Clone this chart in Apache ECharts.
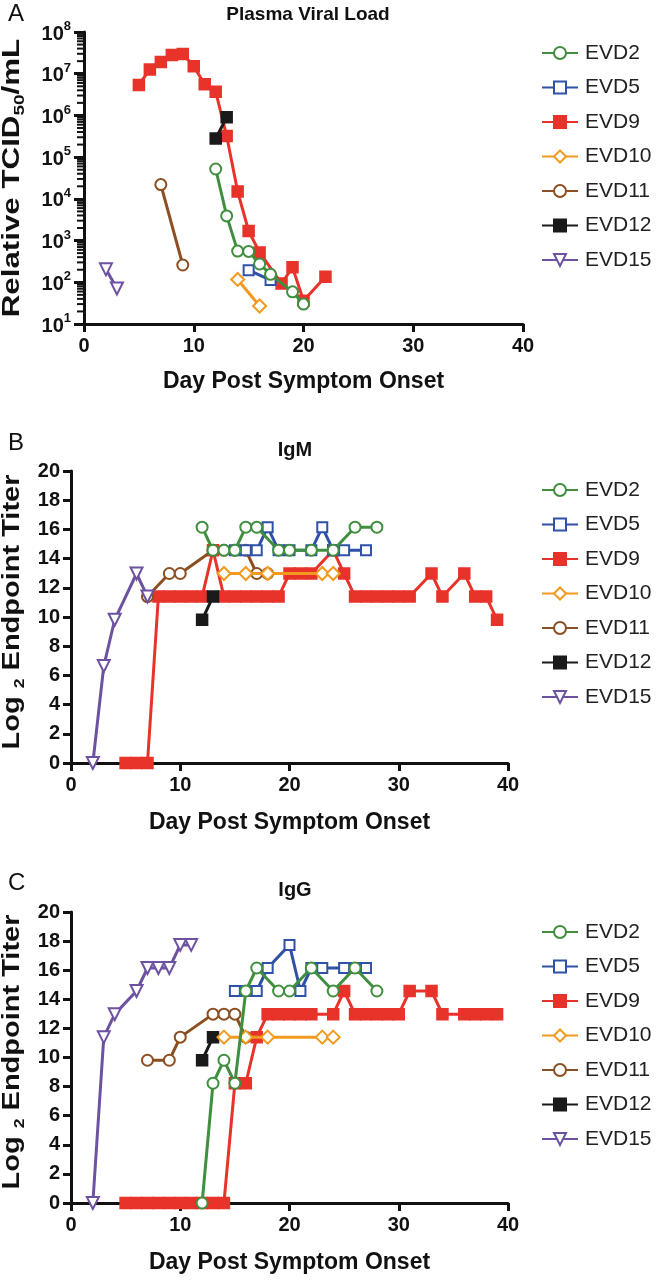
<!DOCTYPE html>
<html><head><meta charset="utf-8">
<script src="https://cdn.jsdelivr.net/npm/echarts@6/dist/echarts.min.js"></script>
<style>html,body{margin:0;padding:0;background:#fff}#c{width:661px;height:1280px}</style>
</head><body><div id="c"></div>
<script>
// ---------- categories / ticks ----------
const seriesNames = ['EVD2','EVD5','EVD9','EVD10','EVD11','EVD12','EVD15'];
const dayTicks = [0, 10, 20, 30, 40];
const titerTicks = [0, 2, 4, 6, 8, 10, 12, 14, 16, 18, 20];
const viralTicks = [1e1, 1e2, 1e3, 1e4, 1e5, 1e6, 1e7, 1e8];
const minorMultipliers = [2, 3, 4, 5, 6, 7, 8, 9];

// ---------- Panel A: plasma viral load [day, TCID50/mL] ----------
const vlEVD2  = [[12,52000],[13,3900],[14,560],[15,550],[16,275],[17,155],[19,59],[20,30]];
const vlEVD5  = [[15,195],[17,113]];
const vlEVD9  = [[5,5.4e6],[6,1.27e7],[7,1.9e7],[8,2.8e7],[9,2.96e7],[10,1.5e7],[11,5.6e6],[12,3.7e6],[13,3.2e5],[14,1.5e4],[15,1700],[16,520],[18,93],[19,229],[20,36],[22,135]];
const vlEVD10 = [[14,117],[16,27]];
const vlEVD11 = [[7,22000],[9,260]];
const vlEVD12 = [[12,2.8e5],[13,9e5]];
const vlEVD15 = [[2,204],[3,71]];

// ---------- Panel B: IgM log2 endpoint titer ----------
const igmEVD2  = [[12,16.15],[13,14.57],[14,14.57],[15,14.57],[16,16.15],[17,16.15],[19,14.57],[20,14.57],[22,14.57],[24,14.57],[26,16.15],[28,16.15]];
const igmEVD5  = [[15,14.57],[16,14.57],[17,14.57],[18,16.15],[19,14.57],[20,14.57],[22,14.57],[23,16.15],[24,14.57],[25,14.57],[27,14.57]];
const igmEVD9  = [[5,0],[6,0],[7,0],[8,11.4],[9,11.4],[10,11.4],[11,11.4],[12,11.4],[13,14.57],[14,11.4],[15,11.4],[16,11.4],[17,11.4],[18,11.4],[19,11.4],[20,12.98],[21,12.98],[22,12.98],[24,14.57],[25,12.98],[26,11.4],[27,11.4],[28,11.4],[29,11.4],[30,11.4],[31,11.4],[33,12.98],[34,11.4],[36,12.98],[37,11.4],[38,11.4],[39,9.81]];
const igmEVD10 = [[14,12.98],[16,12.98],[18,12.98],[23,12.98],[24,12.98]];
const igmEVD11 = [[7,11.4],[9,12.98],[10,12.98],[13,14.57],[14,14.57],[15,14.57],[16,14.57],[17,12.98],[18,12.98]];
const igmEVD12 = [[12,9.81],[13,11.4]];
const igmEVD15 = [[2,0],[3,6.64],[4,9.81],[6,12.98],[7,11.4]];

// ---------- Panel C: IgG log2 endpoint titer ----------
const iggEVD2  = [[12,0],[13,8.23],[14,9.81],[15,8.23],[16,14.57],[17,16.15],[19,14.57],[20,14.57],[22,16.15],[24,14.57],[26,16.15],[28,14.57]];
const iggEVD5  = [[15,14.57],[16,14.57],[17,14.57],[18,16.15],[20,17.74],[21,14.57],[22,16.15],[23,16.15],[25,16.15],[26,16.15],[27,16.15]];
const iggEVD9  = [[5,0],[6,0],[7,0],[8,0],[9,0],[10,0],[11,0],[12,0],[13,0],[14,0],[15,8.23],[16,8.23],[17,11.4],[18,12.98],[19,12.98],[20,12.98],[21,12.98],[22,12.98],[24,12.98],[25,14.57],[26,12.98],[27,12.98],[28,12.98],[29,12.98],[30,12.98],[31,14.57],[33,14.57],[34,12.98],[36,12.98],[37,12.98],[38,12.98],[39,12.98]];
const iggEVD10 = [[14,11.4],[16,11.4],[18,11.4],[23,11.4],[24,11.4]];
const iggEVD11 = [[7,9.81],[9,9.81],[10,11.4],[13,12.98],[14,12.98],[15,12.98],[16,11.4]];
const iggEVD12 = [[12,9.81],[13,11.4]];
const iggEVD15 = [[2,0],[3,11.4],[4,12.98],[6,14.57],[7,16.15],[8,16.15],[9,16.15],[10,17.74],[11,17.74]];

// ---------- styling ----------
const FONT = "'Liberation Sans', Arial, Helvetica, sans-serif";
const AX = '#111111';
const markStyle = {
  EVD2:  {color:'#3f8f3f', symbol:'emptyCircle',   size:11},
  EVD5:  {color:'#2f51a7', symbol:'emptyRect',     size:10},
  EVD9:  {color:'#e8332a', symbol:'rect',          size:10},
  EVD10: {color:'#f29a1d', symbol:'emptyDiamond',  size:13},
  EVD11: {color:'#8b4f21', symbol:'emptyCircle',   size:11},
  EVD12: {color:'#1a1a1a', symbol:'rect',          size:10},
  EVD15: {color:'#6d52a2', symbol:'emptyTriangle', size:12, rotate:180}
};
const drawOrder = ['EVD9','EVD11','EVD12','EVD10','EVD15','EVD5','EVD2'];

const panels = [
  {yIdx:0, data:{EVD2:vlEVD2,EVD5:vlEVD5,EVD9:vlEVD9,EVD10:vlEVD10,EVD11:vlEVD11,EVD12:vlEVD12,EVD15:vlEVD15}},
  {yIdx:1, data:{EVD2:igmEVD2,EVD5:igmEVD5,EVD9:igmEVD9,EVD10:igmEVD10,EVD11:igmEVD11,EVD12:igmEVD12,EVD15:igmEVD15}},
  {yIdx:2, data:{EVD2:iggEVD2,EVD5:iggEVD5,EVD9:iggEVD9,EVD10:iggEVD10,EVD11:iggEVD11,EVD12:iggEVD12,EVD15:iggEVD15}}
];

const series = [];
panels.forEach((p, i) => {
  drawOrder.forEach((name, k) => {
    const st = markStyle[name];
    series.push({
      type:'line', name, xAxisIndex:i, yAxisIndex:p.yIdx, data:p.data[name],
      symbol:st.symbol, symbolSize:st.size, symbolRotate:st.rotate || 0,
      showAllSymbol:true, animation:false, z: 2 + k,
      lineStyle:{width:3, color:st.color},
      itemStyle:{color:st.color, borderColor:st.color, borderWidth:2.5},
      emphasis:{disabled:true}
    });
  });
});

// minor log ticks (2..9 x 10^n) on the viral-load axis, placed by the log axis itself.
// Named after a legend entry so the legend filter keeps it visible (legend icon comes from the first EVD2 line).
const minorTickData = [];
viralTicks.slice(0, -1).forEach(t => minorMultipliers.forEach(m => minorTickData.push([0, m * t])));
series.push({
  type:'scatter', name:'EVD2', xAxisIndex:0, yAxisIndex:0, data:minorTickData,
  symbol:'rect', symbolSize:[7, 2], symbolOffset:[-3.5, 0], clip:false, silent:true, z:10,
  itemStyle:{color:AX, opacity:1}, emphasis:{disabled:true}, animation:false, tooltip:{show:false}
});

const grids = [
  {left:84, top:32, width:439, height:292},
  {left:71, top:471, width:437, height:292},
  {left:71, top:912, width:437, height:291}
];

function xAxisFor(i, gap) {
  return {
    type:'value', gridIndex:i, min:0, max:40, interval:10,
    name:'Day Post Symptom Onset', nameLocation:'middle', nameGap:gap,
    nameTextStyle:{fontFamily:FONT, fontSize:23, fontWeight:'bold', color:AX},
    axisLine:{show:true, onZero:false, lineStyle:{color:AX, width:3}},
    axisTick:{show:true, length:8, lineStyle:{color:AX, width:3}},
    axisLabel:{fontFamily:FONT, fontSize:20, fontWeight:'bold', color:AX, margin:12,
      customValues: dayTicks},
    splitLine:{show:false}
  };
}
function titerAxis(i) {
  return {
    type:'value', gridIndex:i, min:0, max:20, interval:2,
    axisLine:{show:true, onZero:false, lineStyle:{color:AX, width:3}},
    axisTick:{show:true, length:8, lineStyle:{color:AX, width:3}},
    axisLabel:{fontFamily:FONT, fontSize:20, fontWeight:'bold', color:AX, margin:11,
      customValues: titerTicks},
    splitLine:{show:false}
  };
}

function legendAt(top) {
  return {
    data: seriesNames, orient:'vertical', left:541, top:top, padding:0,
    itemWidth:36, itemHeight:15, itemGap:12.5, selectedMode:false,
    textStyle:{fontFamily:FONT, fontSize:21, color:'#222', lineHeight:22, padding:[0,0,0,2]}
  };
}

const ytitleRich = {
  m:{fontFamily:FONT, fontSize:23, fontWeight:'bold', fill:AX, lineHeight:26, verticalAlign:'top'},
  s:{fontFamily:FONT, fontSize:14, fontWeight:'bold', fill:AX, lineHeight:14, padding:[14,0,0,0], verticalAlign:'bottom'}
};

const option = {
  animation:false,
  backgroundColor:'#ffffff',
  textStyle:{fontFamily:FONT},
  title:[
    {text:'Plasma Viral Load', left:303, top:0, textAlign:'center',
     textStyle:{fontFamily:FONT, fontSize:19, fontWeight:'bold', color:AX}},
    {text:'IgM', left:290, top:435, textAlign:'center',
     textStyle:{fontFamily:FONT, fontSize:20, fontWeight:'bold', color:AX}},
    {text:'IgG', left:290, top:875, textAlign:'center',
     textStyle:{fontFamily:FONT, fontSize:20, fontWeight:'bold', color:AX}}
  ],
  legend:[legendAt(42), legendAt(479), legendAt(921)],
  grid:grids,
  xAxis:[xAxisFor(0,46), xAxisFor(1,48), xAxisFor(2,48)],
  yAxis:[
    {type:'log', logBase:10, gridIndex:0, position:'left', min:viralTicks[0], max:viralTicks[viralTicks.length-1], splitNumber:7,
     axisLine:{show:true, onZero:false, lineStyle:{color:AX, width:3}},
     axisTick:{show:true, length:10, lineStyle:{color:AX, width:3}},
     axisLabel:{color:AX, margin:13,
       formatter:function(v){ return '{b|10}{s|' + Math.round(Math.log10(v)) + '}'; },
       rich:{
         b:{fontFamily:FONT, fontSize:20, fontWeight:'bold', color:AX, lineHeight:24, verticalAlign:'bottom'},
         s:{fontFamily:FONT, fontSize:13, fontWeight:'bold', color:AX, lineHeight:13, verticalAlign:'top'}
       }},
     splitLine:{show:false}},
    titerAxis(1),
    titerAxis(2)
  ],
  graphic:[
    {type:'text', left:8, top:2, style:{text:'A', fontFamily:FONT, fontSize:24, fill:AX}},
    {type:'text', left:8, top:431, style:{text:'B', fontFamily:FONT, fontSize:24, fill:AX}},
    {type:'text', left:8, top:871, style:{text:'C', fontFamily:FONT, fontSize:24, fill:AX}},
    {type:'text', x:14, y:178, rotation:Math.PI/2, scaleX:1.36,
     style:{text:'{m|Relative TCID}{s|50}{m|/mL}', align:'center', verticalAlign:'middle', rich:ytitleRich}},
    {type:'text', x:14, y:612, rotation:Math.PI/2, scaleX:1.26,
     style:{text:'{m|Log }{s|2}{m| Endpoint Titer}', align:'center', verticalAlign:'middle', rich:ytitleRich}},
    {type:'text', x:14, y:1052, rotation:Math.PI/2, scaleX:1.26,
     style:{text:'{m|Log }{s|2}{m| Endpoint Titer}', align:'center', verticalAlign:'middle', rich:ytitleRich}}
  ],
  series:series
};

const chart = echarts.init(document.getElementById('c'), null, {renderer:'canvas'});
chart.setOption(option);
</script>
</body></html>
